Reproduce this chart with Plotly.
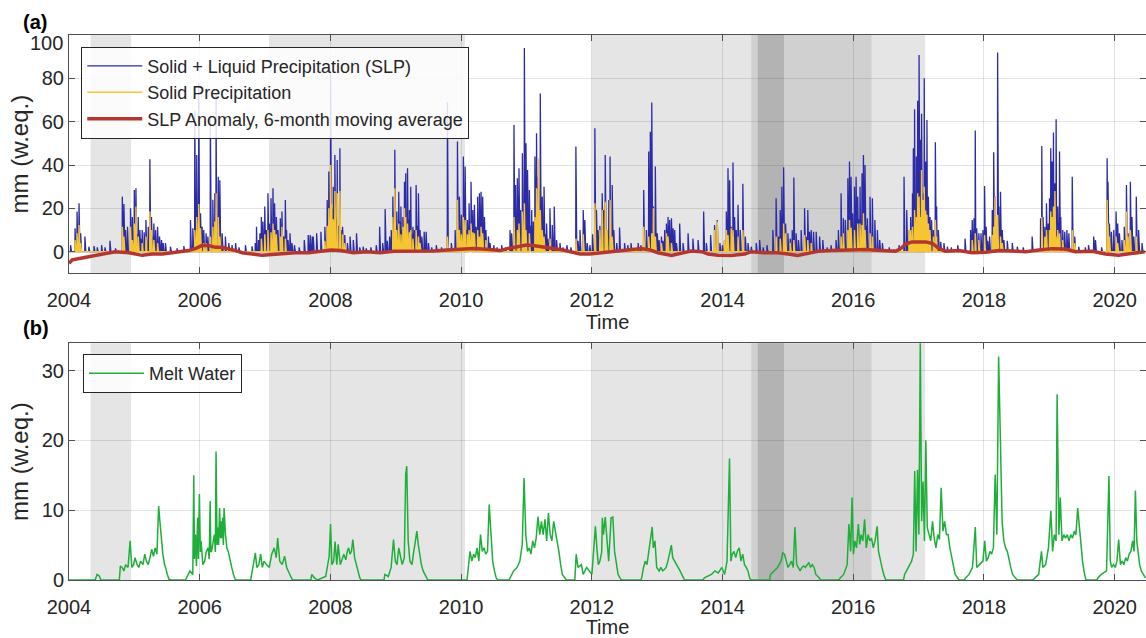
import numpy as np
import plotly.graph_objects as go

# ---------------- data (time in decimal years) ----------------
# Solid + liquid precipitation, daily peaks (mm w.eq.)
slp_years = [
    2004.025, 2004.092, 2004.122, 2004.153, 2004.178, 2004.244, 2004.305, 2004.382, 2004.433, 2004.499,
    2004.550, 2004.626, 2004.713, 2004.815, 2004.840, 2004.866, 2004.896, 2004.942, 2004.968, 2004.998,
    2005.024, 2005.040, 2005.059, 2005.085, 2005.100, 2005.120, 2005.151, 2005.176, 2005.212, 2005.237,
    2005.263, 2005.280, 2005.299, 2005.324, 2005.355, 2005.385, 2005.416, 2005.440, 2005.477, 2005.553,
    2005.655, 2005.757, 2005.859, 2005.894, 2005.925, 2005.955, 2005.986, 2006.012, 2006.037, 2006.062,
    2006.098, 2006.124, 2006.164, 2006.200, 2006.230, 2006.251, 2006.282, 2006.307, 2006.343, 2006.394,
    2006.445, 2006.495, 2006.550, 2006.600, 2006.700, 2006.800, 2006.850, 2006.870, 2006.900, 2006.920,
    2006.944, 2006.969, 2006.995, 2007.020, 2007.045, 2007.066, 2007.091, 2007.122, 2007.147, 2007.173,
    2007.198, 2007.234, 2007.259, 2007.285, 2007.310, 2007.330, 2007.351, 2007.380, 2007.412, 2007.450,
    2007.520, 2007.600, 2007.660, 2007.690, 2007.720, 2007.738, 2007.790, 2007.855, 2007.916, 2007.950,
    2007.976, 2008.002, 2008.020, 2008.043, 2008.068, 2008.085, 2008.104, 2008.125, 2008.145, 2008.165,
    2008.185, 2008.220, 2008.260, 2008.300, 2008.350, 2008.400, 2008.450, 2008.500, 2008.548, 2008.620,
    2008.700, 2008.752, 2008.800, 2008.838, 2008.870, 2008.905, 2008.930, 2008.955, 2008.986, 2009.000,
    2009.017, 2009.047, 2009.060, 2009.078, 2009.094, 2009.108, 2009.134, 2009.154, 2009.180, 2009.195,
    2009.210, 2009.230, 2009.245, 2009.261, 2009.287, 2009.312, 2009.330, 2009.348, 2009.373, 2009.399,
    2009.434, 2009.465, 2009.500, 2009.550, 2009.620, 2009.700, 2009.790, 2009.850, 2009.908, 2009.943,
    2009.974, 2010.005, 2010.020, 2010.035, 2010.061, 2010.080, 2010.096, 2010.122, 2010.137, 2010.152,
    2010.178, 2010.203, 2010.229, 2010.254, 2010.280, 2010.305, 2010.330, 2010.356, 2010.380, 2010.417,
    2010.443, 2010.500, 2010.550, 2010.620, 2010.680, 2010.748, 2010.774, 2010.810, 2010.835, 2010.860,
    2010.886, 2010.911, 2010.937, 2010.967, 2010.993, 2011.018, 2011.044, 2011.060, 2011.079, 2011.105,
    2011.130, 2011.155, 2011.181, 2011.211, 2011.242, 2011.268, 2011.290, 2011.308, 2011.330, 2011.360,
    2011.395, 2011.426, 2011.461, 2011.512, 2011.560, 2011.620, 2011.680, 2011.757, 2011.790, 2011.818,
    2011.869, 2011.894, 2011.930, 2011.970, 2012.010, 2012.047, 2012.072, 2012.095, 2012.122, 2012.158,
    2012.183, 2012.204, 2012.234, 2012.260, 2012.280, 2012.311, 2012.336, 2012.380, 2012.423, 2012.500,
    2012.550, 2012.600, 2012.708, 2012.750, 2012.795, 2012.835, 2012.871, 2012.896, 2012.917, 2012.942,
    2012.973, 2013.003, 2013.029, 2013.065, 2013.090, 2013.115, 2013.141, 2013.166, 2013.192, 2013.217,
    2013.243, 2013.268, 2013.294, 2013.345, 2013.396, 2013.472, 2013.548, 2013.625, 2013.711, 2013.752,
    2013.818, 2013.879, 2013.920, 2013.960, 2014.000, 2014.030, 2014.058, 2014.083, 2014.108, 2014.134,
    2014.160, 2014.185, 2014.210, 2014.236, 2014.272, 2014.312, 2014.348, 2014.389, 2014.440, 2014.516,
    2014.567, 2014.620, 2014.680, 2014.770, 2014.820, 2014.857, 2014.883, 2014.908, 2014.934, 2014.964,
    2015.000, 2015.035, 2015.066, 2015.091, 2015.127, 2015.163, 2015.204, 2015.254, 2015.280, 2015.305,
    2015.331, 2015.356, 2015.392, 2015.433, 2015.484, 2015.535, 2015.600, 2015.660, 2015.738, 2015.774,
    2015.815, 2015.850, 2015.880, 2015.917, 2015.942, 2015.967, 2015.993, 2016.018, 2016.044, 2016.069,
    2016.090, 2016.105, 2016.135, 2016.156, 2016.180, 2016.200, 2016.217, 2016.258, 2016.294, 2016.330,
    2016.370, 2016.406, 2016.447, 2016.550, 2016.620, 2016.700, 2016.778, 2016.818, 2016.854, 2016.879,
    2016.905, 2016.920, 2016.940, 2016.966, 2016.986, 2017.007, 2017.027, 2017.047, 2017.068, 2017.088,
    2017.109, 2017.129, 2017.149, 2017.175, 2017.200, 2017.226, 2017.256, 2017.277, 2017.302, 2017.338,
    2017.389, 2017.440, 2017.500, 2017.600, 2017.710, 2017.796, 2017.822, 2017.847, 2017.868, 2017.888,
    2017.923, 2017.954, 2017.985, 2018.010, 2018.035, 2018.060, 2018.086, 2018.127, 2018.148, 2018.168,
    2018.188, 2018.209, 2018.229, 2018.254, 2018.280, 2018.305, 2018.356, 2018.433, 2018.510, 2018.600,
    2018.738, 2018.866, 2018.886, 2018.906, 2018.932, 2018.957, 2018.983, 2019.003, 2019.023, 2019.044,
    2019.064, 2019.085, 2019.105, 2019.130, 2019.156, 2019.176, 2019.207, 2019.237, 2019.268, 2019.299,
    2019.350, 2019.390, 2019.451, 2019.550, 2019.600, 2019.680, 2019.706, 2019.800, 2019.884, 2019.900,
    2019.920, 2019.950, 2019.986, 2020.022, 2020.047, 2020.073, 2020.113, 2020.149, 2020.180, 2020.205,
    2020.240, 2020.266, 2020.292, 2020.332, 2020.368, 2020.419,
]
slp_mm = [
    3, 10.8, 18.5, 22.3, 8.5, 7, 2.3, 2.6, 2, 3,
    2, 5, 1.5, 25.4, 22, 10, 11.5, 20, 16, 28.5,
    29.3, 8, 16, 10, 6, 10, 9, 14.6, 11.5, 42.6,
    16, 7, 13, 10, 11.5, 7, 5.4, 4, 4, 2.3,
    1.5, 2.6, 14.6, 10.8, 65, 44.6, 78, 17.7, 11.5, 10,
    8.5, 7, 62, 24, 27, 73, 34.6, 33, 8.5, 7,
    4, 3, 4, 2, 3, 2.5, 4, 11.5, 5.4, 8.5,
    16, 13.9, 20.8, 10, 27, 13, 24.6, 29.3, 22.3, 16,
    10, 15.4, 18.5, 7, 23.8, 10, 5.4, 8.5, 4, 3,
    2, 5.4, 7.7, 7.7, 7, 7, 8.5, 9.2, 11.5, 23.8,
    37, 84, 20, 30, 44.6, 15, 42.3, 12, 47.7, 10,
    11.5, 7.7, 4, 7, 5.4, 8.5, 2, 2.3, 1.5, 2,
    3, 11.5, 4, 19.7, 5, 7, 10, 25.4, 47, 12,
    18.5, 27.7, 14, 20.8, 10, 16, 32.3, 36.2, 38.5, 15,
    19.2, 30, 8, 11.5, 10, 30.8, 12, 27, 10, 7,
    9.2, 9.2, 4, 2, 3, 2, 69, 4, 10, 50.8,
    25.4, 17, 8, 43.9, 39.3, 10, 14.6, 22.3, 10, 32.3,
    19.2, 21.6, 11.5, 25.4, 27, 27.7, 25.4, 16, 10, 7,
    4, 3, 2, 3, 2, 10, 8.5, 58.5, 30.8, 33.9,
    38.5, 19.2, 45.4, 94, 50, 37.7, 28.5, 12, 19.2, 13.9,
    43.9, 54.7, 34.6, 73, 25.4, 30, 8, 13, 6, 20,
    12.3, 20.8, 5.4, 4, 2, 3, 2, 48.5, 5, 10,
    19.2, 14.6, 4, 3, 8, 57, 19.2, 10, 12, 27,
    19.2, 44.6, 10, 23.9, 43.9, 30.8, 10, 4, 11.2, 4,
    3, 4, 4, 3, 28.5, 10, 46.2, 55.4, 68.8, 20.8,
    39.3, 8.5, 5.4, 7, 5, 10, 13, 16, 14.6, 15.4,
    10.8, 10, 4, 13, 4, 8.5, 6, 5.4, 18.5, 4,
    7.7, 12.3, 14.6, 4, 3, 5, 18.5, 38.5, 33, 11.5,
    41.1, 16, 10, 21.6, 10, 31.3, 7, 4, 2.3, 4,
    5.4, 2, 3, 10, 24.6, 7, 19.2, 30, 39, 13,
    8.5, 6, 10, 34.2, 8.5, 5.4, 10, 20, 7, 19.2,
    9.2, 10, 9.2, 9.2, 7, 5.4, 2, 3, 5.4, 10,
    27, 15.4, 14.6, 33.9, 41.6, 34.6, 17.7, 30, 34.6, 25.4,
    15, 30, 36.2, 44.6, 40, 12, 15.4, 25.4, 24.6, 14.6,
    10, 5.4, 4, 2, 1, 3, 34.6, 19.2, 10, 16,
    27, 47.7, 65.7, 43.9, 69.6, 90.8, 51.6, 63.6, 27, 80,
    41.6, 60.8, 25.4, 16, 14.6, 10, 50.5, 20.8, 10, 4.6,
    4, 2.3, 2, 3, 6, 10, 14.6, 15.4, 55.9, 10.8,
    8.5, 8.5, 10, 30.3, 11.5, 5, 7, 19.2, 45.9, 25.4,
    16, 91.9, 20.8, 27.7, 10, 5.4, 5, 4, 2.3, 2,
    7, 15.4, 48.8, 16, 11.5, 22.3, 13, 24.6, 47.7, 41.6,
    55, 31.6, 61.1, 20.8, 46.2, 16, 10, 9.2, 10, 8.5,
    34.6, 7, 2.3, 2, 3, 7, 5.4, 2, 43.1, 32.3,
    13, 9.2, 10, 18.5, 13, 8.5, 5.4, 11.5, 30.8, 8.5,
    32.3, 16, 7, 25.4, 10, 4,
]

# Solid precipitation, daily peaks (mm w.eq.)
solid_years = [
    2004.092, 2004.122, 2004.153, 2004.178, 2004.815, 2004.840, 2004.942, 2004.968, 2004.998, 2005.024,
    2005.059, 2005.120, 2005.176, 2005.237, 2005.263, 2005.299, 2005.355, 2005.925, 2005.955, 2005.986,
    2006.012, 2006.062, 2006.098, 2006.164, 2006.200, 2006.230, 2006.251, 2006.282, 2006.307, 2006.944,
    2006.995, 2007.045, 2007.091, 2007.122, 2007.147, 2007.173, 2007.234, 2007.259, 2007.310, 2007.916,
    2007.950, 2007.976, 2008.002, 2008.020, 2008.043, 2008.068, 2008.104, 2008.145, 2008.185, 2008.220,
    2008.955, 2008.986, 2009.017, 2009.047, 2009.078, 2009.108, 2009.134, 2009.154, 2009.180, 2009.210,
    2009.230, 2009.261, 2009.312, 2009.348, 2009.373, 2009.790, 2009.943, 2009.974, 2010.005, 2010.035,
    2010.061, 2010.096, 2010.122, 2010.152, 2010.178, 2010.203, 2010.254, 2010.280, 2010.305, 2010.330,
    2010.380, 2010.810, 2010.860, 2010.886, 2010.937, 2010.967, 2010.993, 2011.044, 2011.130, 2011.155,
    2011.181, 2011.211, 2011.242, 2011.268, 2011.360, 2011.757, 2011.869, 2012.047, 2012.122, 2012.158,
    2012.204, 2012.234, 2012.280, 2012.311, 2012.795, 2012.871, 2012.917, 2012.942, 2012.973, 2013.065,
    2013.141, 2013.166, 2013.217, 2013.879, 2013.920, 2014.030, 2014.058, 2014.083, 2014.134, 2014.160,
    2014.236, 2014.312, 2014.820, 2014.883, 2014.934, 2014.964, 2015.035, 2015.091, 2015.254, 2015.305,
    2015.356, 2015.815, 2015.850, 2015.917, 2015.942, 2015.967, 2016.018, 2016.069, 2016.105, 2016.135,
    2016.156, 2016.180, 2016.258, 2016.294, 2016.854, 2016.879, 2016.905, 2016.940, 2016.966, 2016.986,
    2017.007, 2017.027, 2017.047, 2017.068, 2017.088, 2017.109, 2017.129, 2017.149, 2017.175, 2017.226,
    2017.256, 2017.277, 2017.822, 2017.868, 2017.923, 2018.010, 2018.127, 2018.148, 2018.168, 2018.188,
    2018.209, 2018.254, 2018.280, 2018.886, 2018.932, 2018.957, 2019.003, 2019.023, 2019.044, 2019.064,
    2019.085, 2019.105, 2019.130, 2019.156, 2019.207, 2019.350, 2019.390, 2019.884, 2019.900, 2019.920,
    2020.022, 2020.047, 2020.149, 2020.180, 2020.205, 2020.240, 2020.332,
]
solid_mm = [
    5.4, 8.5, 12.3, 4, 11.5, 7, 11.5, 5.4, 13, 20.8,
    7, 4, 7, 18.5, 10, 5.4, 4, 10, 16, 22,
    10.8, 4, 4, 7, 11.5, 13.9, 27, 16, 7, 6,
    8, 10, 9, 13, 10, 8, 7, 11.5, 6, 5,
    12, 20, 40, 22, 15, 28, 27, 28, 8, 4,
    16, 29.3, 10, 13, 8, 11.5, 20, 16, 13, 9,
    10, 6, 10, 7, 4, 7, 23.9, 10, 8, 16,
    14.6, 8, 10, 13, 9, 8.5, 10, 7, 11.5, 8.5,
    5.4, 16, 10, 13, 18.5, 22.3, 10, 8.5, 16, 29.3,
    43, 19.2, 10, 7, 6, 6, 8, 22.3, 10, 19.2,
    23, 10, 23.9, 7, 11.5, 7, 8.5, 20, 7, 4,
    8.5, 7, 4, 10, 13.9, 5, 10, 7.7, 10.8, 10,
    7, 10, 7, 6, 13, 8.5, 4, 5.4, 7.7, 5.4,
    4, 7, 8.5, 10, 14.6, 11, 10, 13, 13, 12.3,
    17.7, 10, 8.5, 7, 10, 10, 11.5, 19.2, 16, 27,
    25.4, 16, 37.7, 23.9, 30, 19, 17, 13, 10, 7,
    14.6, 7, 5.4, 8.5, 5.4, 7.7, 7.7, 11.5, 25.4, 16,
    17, 7, 4, 16, 7, 10, 10, 18.5, 16, 20.8,
    28, 7, 10, 8.5, 5.4, 10, 4, 23.9, 13, 7,
    7, 4, 5.4, 18.5, 7, 10, 7,
]

# SLP anomaly, 6-month moving average (mm w.eq.)
anom_years = [
    2004.00, 2004.05, 2004.20, 2004.41, 2004.61, 2004.71, 2004.92, 2005.12, 2005.27, 2005.43,
    2005.63, 2005.83, 2005.94, 2006.04, 2006.14, 2006.24, 2006.34, 2006.45, 2006.55, 2006.65,
    2006.75, 2006.85, 2006.95, 2007.06, 2007.16, 2007.26, 2007.46, 2007.67, 2007.87, 2008.01,
    2008.15, 2008.35, 2008.56, 2008.76, 2008.97, 2009.17, 2009.37, 2009.58, 2009.78, 2009.98,
    2010.19, 2010.39, 2010.60, 2010.72, 2010.85, 2011.00, 2011.10, 2011.26, 2011.41, 2011.56,
    2011.72, 2011.82, 2011.97, 2012.15, 2012.40, 2012.61, 2012.76, 2012.89, 2013.01, 2013.22,
    2013.37, 2013.52, 2013.68, 2013.78, 2013.93, 2014.13, 2014.34, 2014.44, 2014.64, 2014.85,
    2015.00, 2015.15, 2015.31, 2015.46, 2015.66, 2015.87, 2016.07, 2016.20, 2016.29, 2016.50,
    2016.65, 2016.73, 2016.80, 2016.90, 2017.11, 2017.21, 2017.31, 2017.41, 2017.62, 2017.82,
    2018.03, 2018.23, 2018.43, 2018.64, 2018.84, 2019.04, 2019.25, 2019.40, 2019.66, 2019.86,
    2020.06, 2020.27, 2020.46,
]
anom_mm = [
    -5.4, -3.8, -2.9, -1.7, -0.5, 0.0, -0.5, -1.7, -1.1, -1.1,
    -0.3, 0.5, 1.5, 2.9, 2.8, 2.0, 2.0, 1.4, 0.5, -0.5,
    -0.8, -1.5, -1.7, -1.4, -1.2, -0.8, -0.5, -0.5, 0.2, 0.8,
    0.5, -0.5, 0.0, -0.5, 0.2, 0.3, 0.0, 0.3, 0.8, 1.1,
    1.5, 1.1, 0.5, 1.5, 2.3, 3.1, 2.8, 2.3, 1.5, 0.8,
    -0.5, -1.1, -1.1, -0.5, 0.2, 0.8, 1.5, 0.8, -0.5, -1.7,
    -0.8, 0.3, 0.0, -1.1, -1.7, -1.8, -1.1, 0.0, -0.5, -0.5,
    -1.1, -1.8, -0.8, 0.2, 0.5, 0.8, 1.2, 1.0, 0.8, 0.5,
    0.2, 1.5, 3.5, 4.5, 4.5, 3.8, 1.5, 0.2, 0.5, -0.5,
    -0.3, 0.5, 0.2, 0.0, 0.8, 1.4, 1.2, 0.0, 0.2, -1.1,
    -1.7, -0.8, 0.0,
]

# Melt water (mm w.eq.)
melt_years = [
    2004.000, 2004.400, 2004.430, 2004.460, 2004.490, 2004.770,
    2004.786, 2004.813, 2004.839, 2004.866, 2004.903, 2004.935, 2004.962, 2004.988, 2005.010, 2005.042,
    2005.068, 2005.095, 2005.132, 2005.159, 2005.185, 2005.212, 2005.239, 2005.265, 2005.292, 2005.318,
    2005.345, 2005.372, 2005.388, 2005.409, 2005.436, 2005.462, 2005.478, 2005.505, 2005.531, 2005.560,
    2005.780, 2005.798, 2005.851, 2005.894, 2005.909, 2005.920, 2005.936, 2005.950, 2005.968, 2005.980,
    2005.995, 2006.010, 2006.021, 2006.048, 2006.075, 2006.101, 2006.128, 2006.145, 2006.160, 2006.170,
    2006.181, 2006.208, 2006.224, 2006.240, 2006.250, 2006.265, 2006.277, 2006.290, 2006.304, 2006.318,
    2006.330, 2006.340, 2006.351, 2006.362, 2006.373, 2006.394, 2006.415, 2006.437, 2006.463, 2006.490,
    2006.517, 2006.543, 2006.560,
    2006.780, 2006.852, 2006.873, 2006.905, 2006.932, 2006.958, 2006.985, 2007.022, 2007.065, 2007.102,
    2007.140, 2007.171, 2007.193, 2007.225, 2007.262, 2007.299, 2007.331, 2007.368, 2007.406, 2007.420,
    2007.700, 2007.715, 2007.757, 2007.800, 2007.928, 2007.954, 2007.981, 2008.002, 2008.023, 2008.050,
    2008.071, 2008.098, 2008.119, 2008.151, 2008.173, 2008.205, 2008.236, 2008.258, 2008.279, 2008.300,
    2008.322, 2008.343, 2008.370, 2008.396, 2008.418, 2008.450, 2008.470,
    2008.820, 2008.833, 2008.886, 2008.929, 2008.966, 2008.993, 2009.019, 2009.046, 2009.072, 2009.099,
    2009.131, 2009.152, 2009.168, 2009.190, 2009.216, 2009.248, 2009.270, 2009.301, 2009.323, 2009.344,
    2009.365, 2009.392, 2009.419, 2009.472, 2009.490,
    2010.090, 2010.111, 2010.137, 2010.164, 2010.191, 2010.217, 2010.244, 2010.271, 2010.297, 2010.324,
    2010.350, 2010.377, 2010.404, 2010.430, 2010.457, 2010.483, 2010.510, 2010.537, 2010.560,
    2010.730, 2010.750, 2010.803, 2010.857, 2010.899, 2010.936, 2010.963, 2010.990, 2011.016, 2011.043,
    2011.069, 2011.096, 2011.123, 2011.149, 2011.176, 2011.203, 2011.229, 2011.256, 2011.283, 2011.309,
    2011.336, 2011.363, 2011.389, 2011.416, 2011.443, 2011.469, 2011.496, 2011.523, 2011.549, 2011.602,
    2011.620,
    2011.740, 2011.761, 2011.788, 2011.841, 2011.868, 2011.921, 2012.001, 2012.055, 2012.081, 2012.100,
    2012.124, 2012.151, 2012.161, 2012.178, 2012.205, 2012.231, 2012.258, 2012.295, 2012.322, 2012.348,
    2012.375, 2012.402, 2012.444, 2012.460,
    2012.750, 2012.764, 2012.791, 2012.817, 2012.844, 2012.871, 2012.897, 2012.924, 2012.940, 2012.966,
    2012.993, 2013.030, 2013.057, 2013.084, 2013.110, 2013.137, 2013.164, 2013.190, 2013.217, 2013.238,
    2013.270, 2013.297, 2013.323, 2013.350, 2013.403, 2013.420,
    2013.700, 2013.723, 2013.830, 2013.883, 2013.936, 2013.989, 2014.032, 2014.069, 2014.107, 2014.128,
    2014.149, 2014.176, 2014.202, 2014.229, 2014.256, 2014.282, 2014.309, 2014.336, 2014.362, 2014.389,
    2014.416, 2014.430,
    2014.720, 2014.735, 2014.788, 2014.842, 2014.895, 2014.922, 2014.948, 2014.975, 2015.002, 2015.028,
    2015.055, 2015.082, 2015.108, 2015.135, 2015.161, 2015.188, 2015.215, 2015.241, 2015.268, 2015.295,
    2015.321, 2015.348, 2015.375, 2015.401, 2015.428, 2015.481, 2015.500,
    2015.780, 2015.801, 2015.854, 2015.907, 2015.934, 2015.961, 2015.982, 2016.003, 2016.024, 2016.051,
    2016.078, 2016.099, 2016.120, 2016.147, 2016.174, 2016.200, 2016.227, 2016.254, 2016.280, 2016.307,
    2016.334, 2016.366, 2016.387, 2016.413, 2016.440, 2016.467, 2016.493, 2016.510,
    2016.770, 2016.786, 2016.813, 2016.840, 2016.866, 2016.893, 2016.920, 2016.941, 2016.962, 2016.984,
    2017.005, 2017.026, 2017.047, 2017.069, 2017.090, 2017.111, 2017.133, 2017.159, 2017.186, 2017.213,
    2017.239, 2017.266, 2017.293, 2017.319, 2017.346, 2017.373, 2017.399, 2017.426, 2017.452, 2017.479,
    2017.506, 2017.532, 2017.559, 2017.612, 2017.630,
    2017.700, 2017.719, 2017.772, 2017.825, 2017.868, 2017.890, 2017.932, 2017.985, 2018.012, 2018.038,
    2018.065, 2018.092, 2018.118, 2018.145, 2018.172, 2018.198, 2018.225, 2018.251, 2018.278, 2018.305,
    2018.331, 2018.358, 2018.385, 2018.411, 2018.438, 2018.491, 2018.510,
    2018.740, 2018.758, 2018.838, 2018.881, 2018.902, 2018.944, 2018.987, 2019.024, 2019.051, 2019.077,
    2019.104, 2019.120, 2019.147, 2019.168, 2019.195, 2019.222, 2019.248, 2019.275, 2019.302, 2019.328,
    2019.355, 2019.382, 2019.408, 2019.435, 2019.462, 2019.488, 2019.509, 2019.531, 2019.557, 2019.580,
    2019.730, 2019.743, 2019.796, 2019.876, 2019.913, 2019.934, 2019.955, 2019.982, 2020.009, 2020.035,
    2020.062, 2020.089, 2020.115, 2020.142, 2020.169, 2020.195, 2020.222, 2020.249, 2020.275, 2020.297,
    2020.318, 2020.339, 2020.360, 2020.382, 2020.409, 2020.435, 2020.470,
]
melt_mm = [
    0, 0, 0.8, 0.6, 0, 0,
    2, 1.8, 1.3, 2.2, 1.8, 5.6, 1.8, 2.2, 3.2, 2.2,
    1.8, 2.7, 2.2, 3.7, 2.7, 2.2, 3.2, 4.4, 3.4, 4.6,
    3.7, 10.6, 8.7, 6.5, 3.7, 2.2, 1.8, 0.8, 0.1, 0,
    0, 0.3, 1.3, 0.8, 15, 3, 6.5, 2, 8.9, 3,
    12.3, 4, 5.6, 2.2, 2.7, 4.1, 4.6, 3, 11.3, 4,
    4.1, 5.6, 6.5, 4, 18.4, 5, 7.5, 5, 10.3, 6,
    8.4, 6, 8.9, 5, 10.3, 6.5, 4.6, 4.1, 2.7, 1.8,
    0.8, 0.1, 0,
    0, 3.9, 1.8, 2.2, 3.7, 1.8, 2.7, 2.2, 1.8, 3.7,
    4.6, 3.2, 6, 2.7, 2.2, 3.4, 1.8, 1.0, 0.1, 0,
    0, 0.8, 0.3, 0, 0.5, 1.8, 3.4, 8, 2.2, 2.7,
    5.5, 2.2, 5.1, 2.2, 2.7, 3.7, 2.9, 4.1, 4.6, 3.7,
    4.1, 5.8, 3.2, 2.2, 1.3, 0.3, 0,
    0, 0.8, 0.5, 1.8, 5.8, 2.7, 2.2, 4.6, 3.2, 2.2,
    3.2, 15.1, 16.3, 5.6, 2.7, 2.2, 3.7, 5.6, 7, 5.1,
    3.7, 2.2, 1.3, 0.3, 0,
    0, 1.8, 4.1, 2.7, 3.7, 3.2, 4.6, 2.7, 6.5, 4.1,
    4.6, 3.7, 4.1, 10.8, 5.6, 2.7, 1.3, 0.3, 0,
    0, 0.3, 1.3, 1.8, 2.7, 5.1, 14.6, 6.5, 4.1, 4.6,
    3.7, 5.6, 4.6, 6, 9.1, 6.5, 8.4, 6.5, 8.7, 5.6,
    9.6, 6.5, 5.6, 8.4, 7, 5.6, 4.1, 2.2, 0.8, 0.1,
    0,
    0, 3.7, 1.8, 2.2, 0.8, 1.8, 0.8, 7.7, 4.1, 2.2,
    2.7, 4, 8.9, 6.5, 9, 5.6, 2.7, 8.9, 9, 4.1,
    2.7, 0.8, 0.1, 0,
    0, 0.3, 1.8, 2.7, 2.2, 4.1, 6.5, 7.6, 4.6, 5.6,
    1.8, 1.3, 1.8, 1.3, 1.5, 1.8, 2.7, 3.7, 5, 3.2,
    2.7, 2.2, 1.8, 1.3, 0.3, 0,
    0, 0.3, 0.8, 1.3, 1.0, 1.8, 0.8, 2.7, 17.4, 2.7,
    3.7, 4.1, 3.2, 4.2, 4.6, 2.7, 3.7, 2.2, 1.8, 1.3,
    0.3, 0,
    0, 0.8, 1.3, 1.8, 2.7, 3.9, 3.7, 2.7, 1.8, 2.2,
    2.7, 1.8, 7.6, 2.2, 1.8, 1.3, 1.8, 2, 1.8, 2.2,
    2.5, 1.8, 2.2, 1.8, 0.8, 0.3, 0,
    0, 0.3, 0.8, 2.2, 8, 4.1, 11.8, 3.7, 5.6, 4.6,
    8, 5.1, 6.5, 5.6, 8.7, 4.6, 6.5, 5.6, 6, 4.6,
    5.6, 7.7, 4.1, 2.7, 1.8, 0.8, 0.1, 0,
    0, 0.8, 1.3, 1.8, 2.2, 2.7, 3.7, 15.6, 4.1, 15.8,
    6.5, 34, 8.4, 14.1, 5.6, 20, 7.5, 6.5, 5.6, 8.4,
    6, 4.6, 6.5, 5.8, 13.2, 7, 8.4, 6.5, 6.5, 4.6,
    3.2, 1.8, 0.8, 0.1, 0,
    0, 0.3, 0.8, 1.8, 7.6, 1.8, 2.2, 2.7, 5.6, 2.7,
    3.2, 4.1, 3.7, 4.6, 15.1, 6.5, 32, 18.4, 8.4, 5.6,
    4.6, 4.1, 2.7, 1.8, 0.8, 0.1, 0,
    0, 0.1, 0.8, 4.1, 1.8, 2.2, 4.6, 9.9, 4.1, 6.5,
    5.6, 26.6, 6.5, 11.8, 5.6, 6.5, 6, 6.5, 5.6, 6.5,
    6, 7, 6.5, 10.3, 7.5, 4.6, 2.7, 1.3, 0.1, 0,
    0, 0.3, 0.8, 1.3, 14.9, 2.7, 1.8, 2.2, 1.8, 2.7,
    5.8, 2.2, 2.7, 2.2, 3.2, 2.7, 3.7, 4.1, 5.6, 4.1,
    12.8, 5.6, 3.7, 2.2, 1.3, 0.8, 0.3,
]

# Shaded periods: (start, end, fill colour)
shade_start = [2004.33, 2007.06, 2012.00, 2014.44, 2014.54]
shade_end = [2004.95, 2010.06, 2017.10, 2016.28, 2014.94]
shade_color = ["#e5e5e5", "#e5e5e5", "#e5e5e5", "#d0d0d0", "#b3b3b3"]

year_ticks = [2004, 2006, 2008, 2010, 2012, 2014, 2016, 2018, 2020]
ticks_a = [0, 20, 40, 60, 80, 100]
ticks_b = [0, 10, 20, 30]
x_range = [2004.0, 2020.48]

# ---------------- build daily series from the read peaks ----------------
DAYS = 365.25
n_days = int((x_range[1] - 2004.0) * DAYS) + 1
day_years = 2004.0 + np.arange(n_days) / DAYS


def daily(years, values):
    out = np.zeros(n_days)
    idx = np.clip(np.round((np.asarray(years) - 2004.0) * DAYS).astype(int), 0, n_days - 1)
    out[idx] = values
    return out


slp_daily = daily(slp_years, slp_mm)
solid_daily = daily(solid_years, solid_mm)

FONT = "Liberation Sans, Arial, Helvetica, sans-serif"
TXT = "#262626"
AXC = "#505050"
GRID = "rgba(38,38,38,0.13)"

fig = go.Figure()
fig.add_trace(go.Scatter(x=day_years, y=slp_daily, mode="lines",
                         line=dict(color="#2b2ba8", width=1.3),
                         name="Solid + Liquid Precipitation (SLP)", legend="legend",
                         xaxis="x", yaxis="y"))
fig.add_trace(go.Scatter(x=day_years, y=solid_daily, mode="lines",
                         line=dict(color="#f7c531", width=1.4),
                         name="Solid Precipitation", legend="legend",
                         xaxis="x", yaxis="y"))
fig.add_trace(go.Scatter(x=anom_years, y=anom_mm, mode="lines",
                         line=dict(color="#b3372f", width=3.5),
                         name="SLP Anomaly, 6-month moving average", legend="legend",
                         xaxis="x", yaxis="y"))
fig.add_trace(go.Scatter(x=melt_years, y=melt_mm, mode="lines",
                         line=dict(color="#1fae3a", width=1.5),
                         name="Melt Water", legend="legend2",
                         xaxis="x2", yaxis="y2"))

shapes = []
for xr, yr in (("x", "y domain"), ("x2", "y2 domain")):
    for s, e, c in zip(shade_start, shade_end, shade_color):
        shapes.append(dict(type="rect", xref=xr, yref=yr, x0=s, x1=e, y0=0, y1=1,
                           fillcolor=c, line=dict(width=0), layer="below"))

axis_common = dict(showline=True, linecolor=AXC, linewidth=1, mirror="ticks",
                   ticks="inside", ticklen=6, tickcolor=AXC, showgrid=True,
                   gridcolor=GRID, gridwidth=1, zeroline=False,
                   tickfont=dict(family=FONT, size=20, color=TXT))

x_common = dict(axis_common, range=x_range, tickmode="array", tickvals=year_ticks,
                ticktext=[str(t) for t in year_ticks], ticklabelstandoff=9,
                title=dict(text="Time", font=dict(family=FONT, size=20, color=TXT), standoff=4))

# the top label of panel (a) sits slightly below its tick in the reference
ticktext_a = [str(t) for t in ticks_a[:-1]] + [""]

fig.update_layout(
    width=1146, height=638, autosize=False,
    margin=dict(l=69, r=0, t=35, b=58),
    paper_bgcolor="white", plot_bgcolor="white",
    font=dict(family=FONT, color=TXT),
    showlegend=True,
    xaxis=dict(x_common, domain=[0, 1], anchor="y"),
    yaxis=dict(axis_common, domain=[0.5627, 1.0], anchor="x", range=[-10, 100],
               tickmode="array", tickvals=ticks_a, ticktext=ticktext_a,
               title=dict(text="mm (w.eq.)", font=dict(family=FONT, size=24, color=TXT), standoff=6)),
    xaxis2=dict(x_common, domain=[0, 1], anchor="y2"),
    yaxis2=dict(axis_common, domain=[0, 0.4343], anchor="x2", range=[0, 33.9],
                tickmode="array", tickvals=ticks_b,
                title=dict(text="mm (w.eq.)", font=dict(family=FONT, size=24, color=TXT), standoff=6)),
    legend=dict(x=0.0114, y=0.9785, xanchor="left", yanchor="top",
                bgcolor="rgba(255,255,255,0.85)", bordercolor="#262626", borderwidth=1,
                font=dict(family=FONT, size=18, color=TXT), itemwidth=55, tracegroupgap=0),
    legend2=dict(x=0.013, y=0.4147, xanchor="left", yanchor="top",
                 bgcolor="rgba(255,255,255,0.85)", bordercolor="#262626", borderwidth=1,
                 font=dict(family=FONT, size=18, color=TXT), itemwidth=55),
    shapes=shapes,
    annotations=[
        dict(text=str(ticks_a[-1]), xref="paper", yref="y", x=0, y=ticks_a[-1],
             xanchor="right", yanchor="middle", xshift=-4, yshift=-8, showarrow=False,
             font=dict(family=FONT, size=20, color=TXT)),
        dict(text="<b>(a)</b>", xref="paper", yref="paper", x=-0.045, y=1.0239,
             xanchor="left", yanchor="middle", showarrow=False,
             font=dict(family=FONT, size=20, color="black")),
        dict(text="<b>(b)</b>", xref="paper", yref="paper", x=-0.045, y=0.4624,
             xanchor="left", yanchor="middle", showarrow=False,
             font=dict(family=FONT, size=20, color="black")),
    ],
)

fig.write_html("out.html")
